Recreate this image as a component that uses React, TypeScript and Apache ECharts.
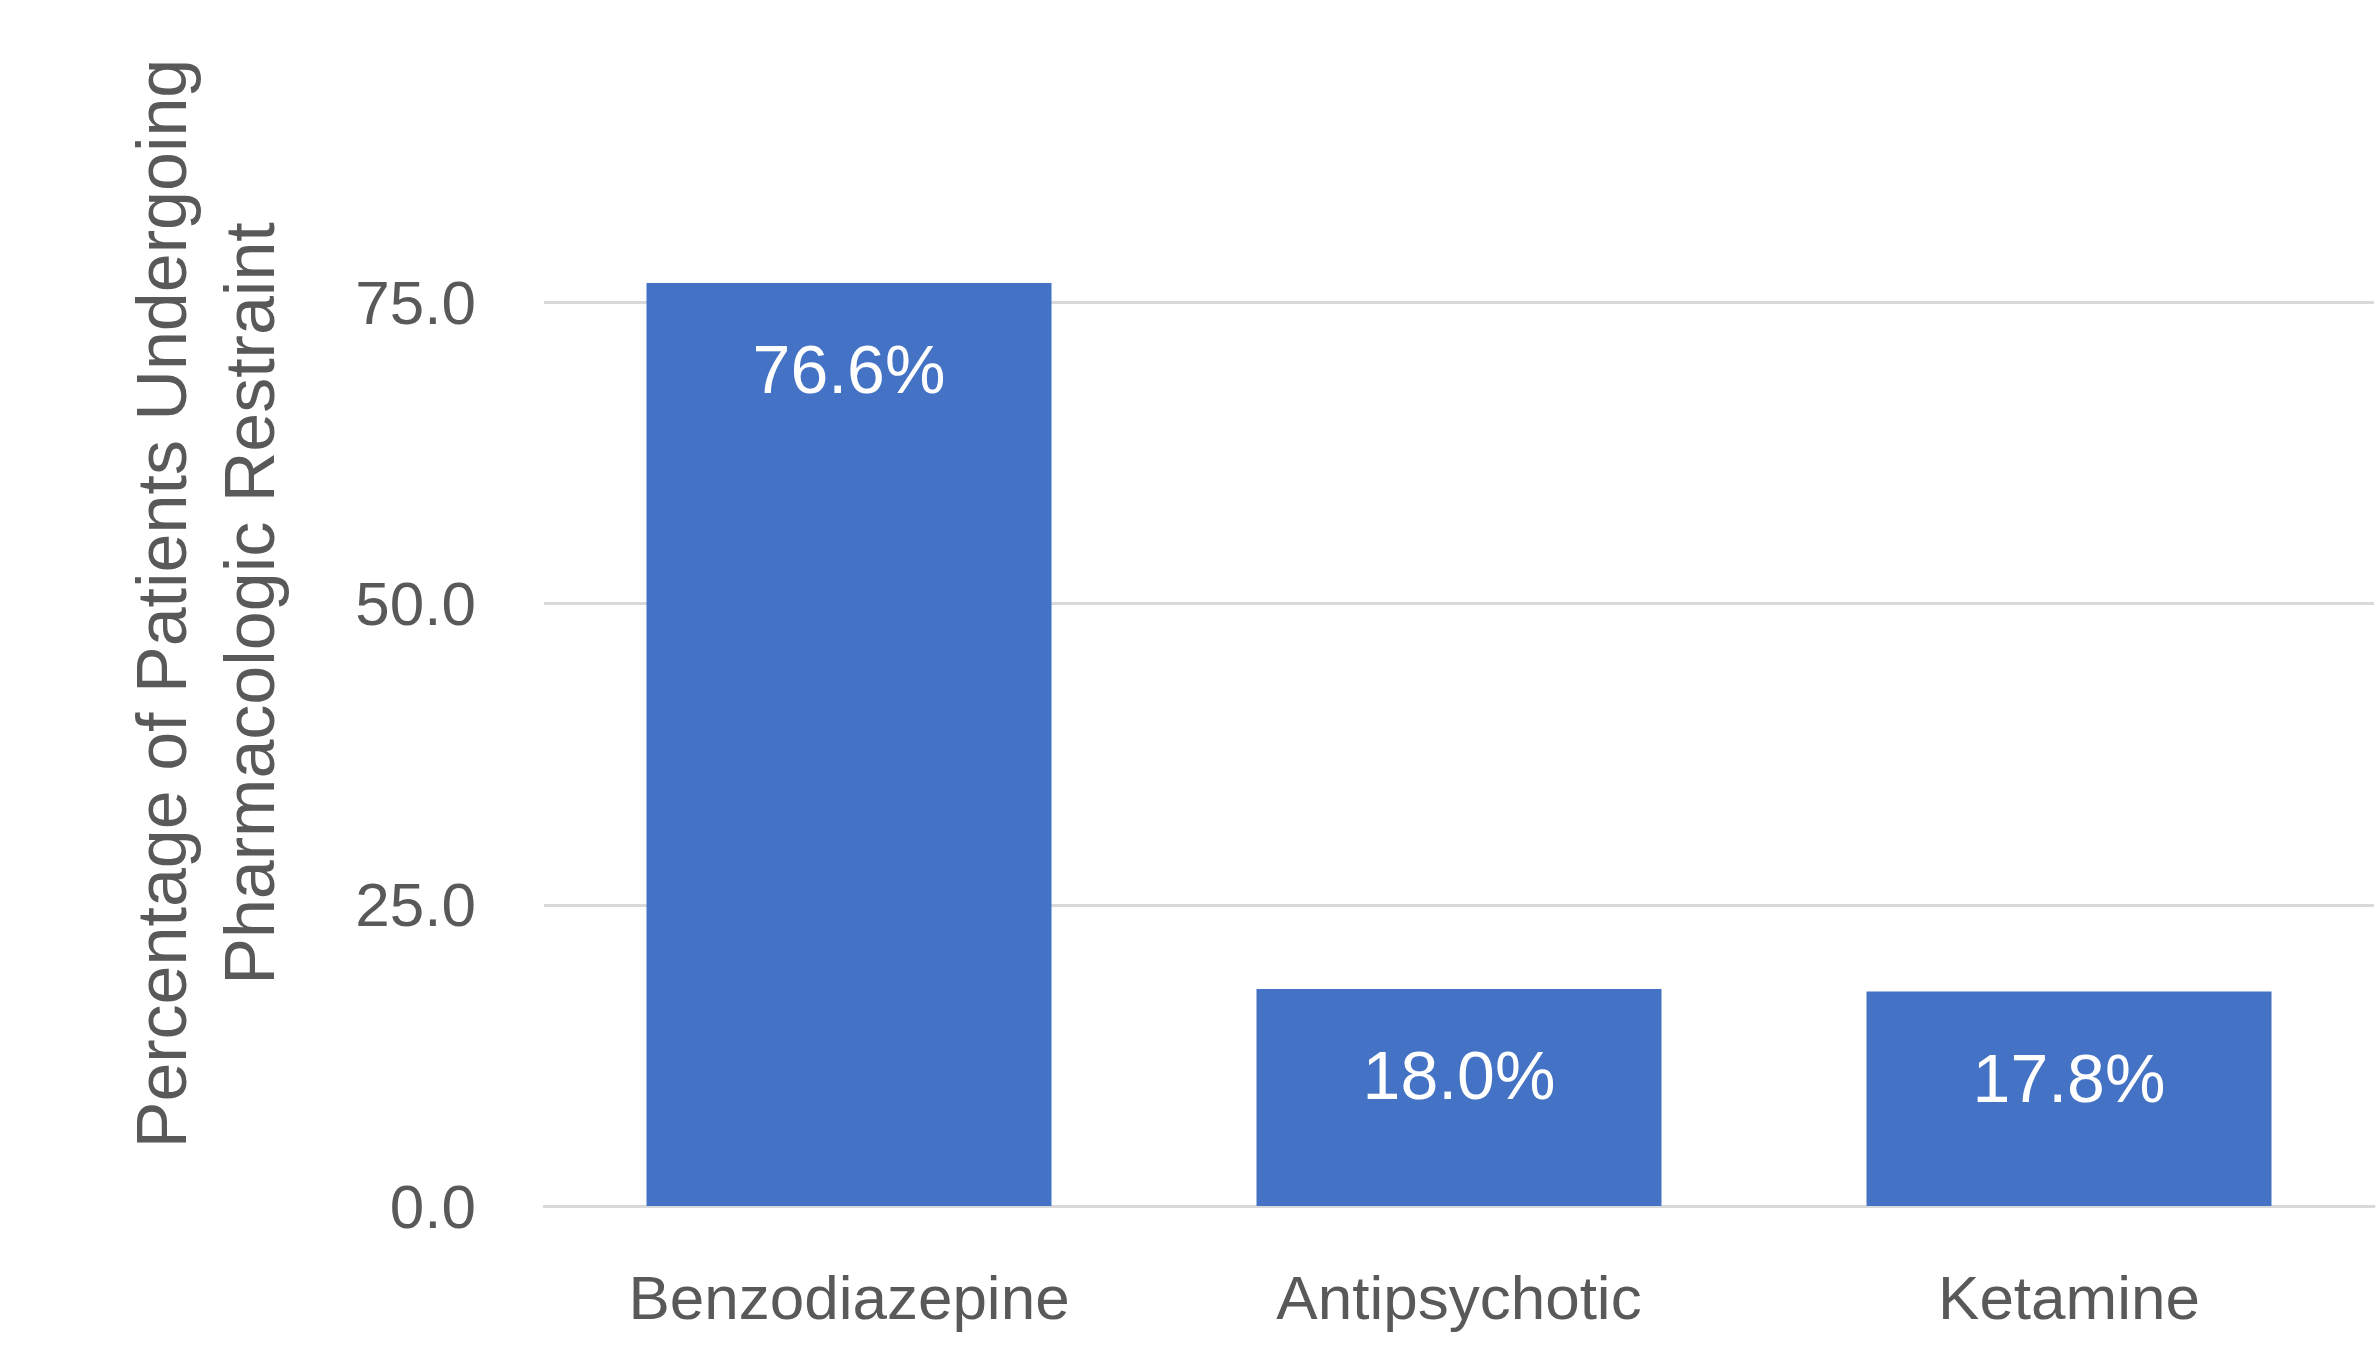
import React, { useEffect, useRef } from "react";
import * as echarts from "echarts";

// Share of patients by restraint agent
const categories = ["Benzodiazepine", "Antipsychotic", "Ketamine"];
const percentages = [76.6, 18.0, 17.8];
const yTicks = [0, 25, 50, 75, 100];

const axisTitle = "Percentage of Patients Undergoing\nPharmacologic Restraint";

const FONT = "'Liberation Sans', Arial, sans-serif";
const GRID_GRAY = "#d9d9d9";
const TEXT_GRAY = "#595959";
const BAR_BLUE = "#4472C4";

export default function App() {
  const ref = useRef<HTMLDivElement>(null);

  useEffect(() => {
    if (!ref.current) return;
    const chart = echarts.init(ref.current, undefined, { renderer: "svg" });
    chart.setOption({
      animation: false,
      backgroundColor: "#ffffff",
      grid: { left: 544, right: 4, top: 1, bottom: 151, containLabel: false },
      xAxis: {
        type: "category",
        data: categories,
        axisTick: { show: false },
        axisLine: { show: true, lineStyle: { color: GRID_GRAY, width: 3 } },
        axisLabel: {
          color: TEXT_GRAY,
          fontFamily: FONT,
          fontSize: 62,
          margin: 60,
        },
      },
      yAxis: {
        type: "value",
        min: yTicks[0],
        max: yTicks[yTicks.length - 1],
        interval: 25,
        name: axisTitle,
        nameLocation: "middle",
        nameRotate: 90,
        nameGap: 250,
        nameTextStyle: {
          color: TEXT_GRAY,
          fontFamily: FONT,
          fontSize: 70,
          lineHeight: 88,
          align: "center",
        },
        axisLine: { show: false },
        axisTick: { show: false },
        axisLabel: {
          color: TEXT_GRAY,
          fontFamily: FONT,
          fontSize: 62,
          margin: 68,
          showMaxLabel: false,
          formatter: (v: number) => v.toFixed(1),
        },
        splitLine: {
          show: true,
          lineStyle: {
            width: 3,
            color: [GRID_GRAY, GRID_GRAY, GRID_GRAY, GRID_GRAY, "rgba(0,0,0,0)"],
          },
        },
      },
      series: [
        {
          type: "bar",
          data: percentages,
          barWidth: 405,
          itemStyle: { color: BAR_BLUE },
          label: {
            show: true,
            position: "insideTop",
            distance: 52,
            color: "#ffffff",
            fontFamily: FONT,
            fontSize: 68,
            formatter: (p: any) => `${Number(p.value).toFixed(1)}%`,
          },
        },
      ],
    });
    return () => chart.dispose();
  }, []);

  return (
    <div
      ref={ref}
      style={{ position: "fixed", left: 0, top: 0, width: 2378, height: 1357 }}
    />
  );
}
